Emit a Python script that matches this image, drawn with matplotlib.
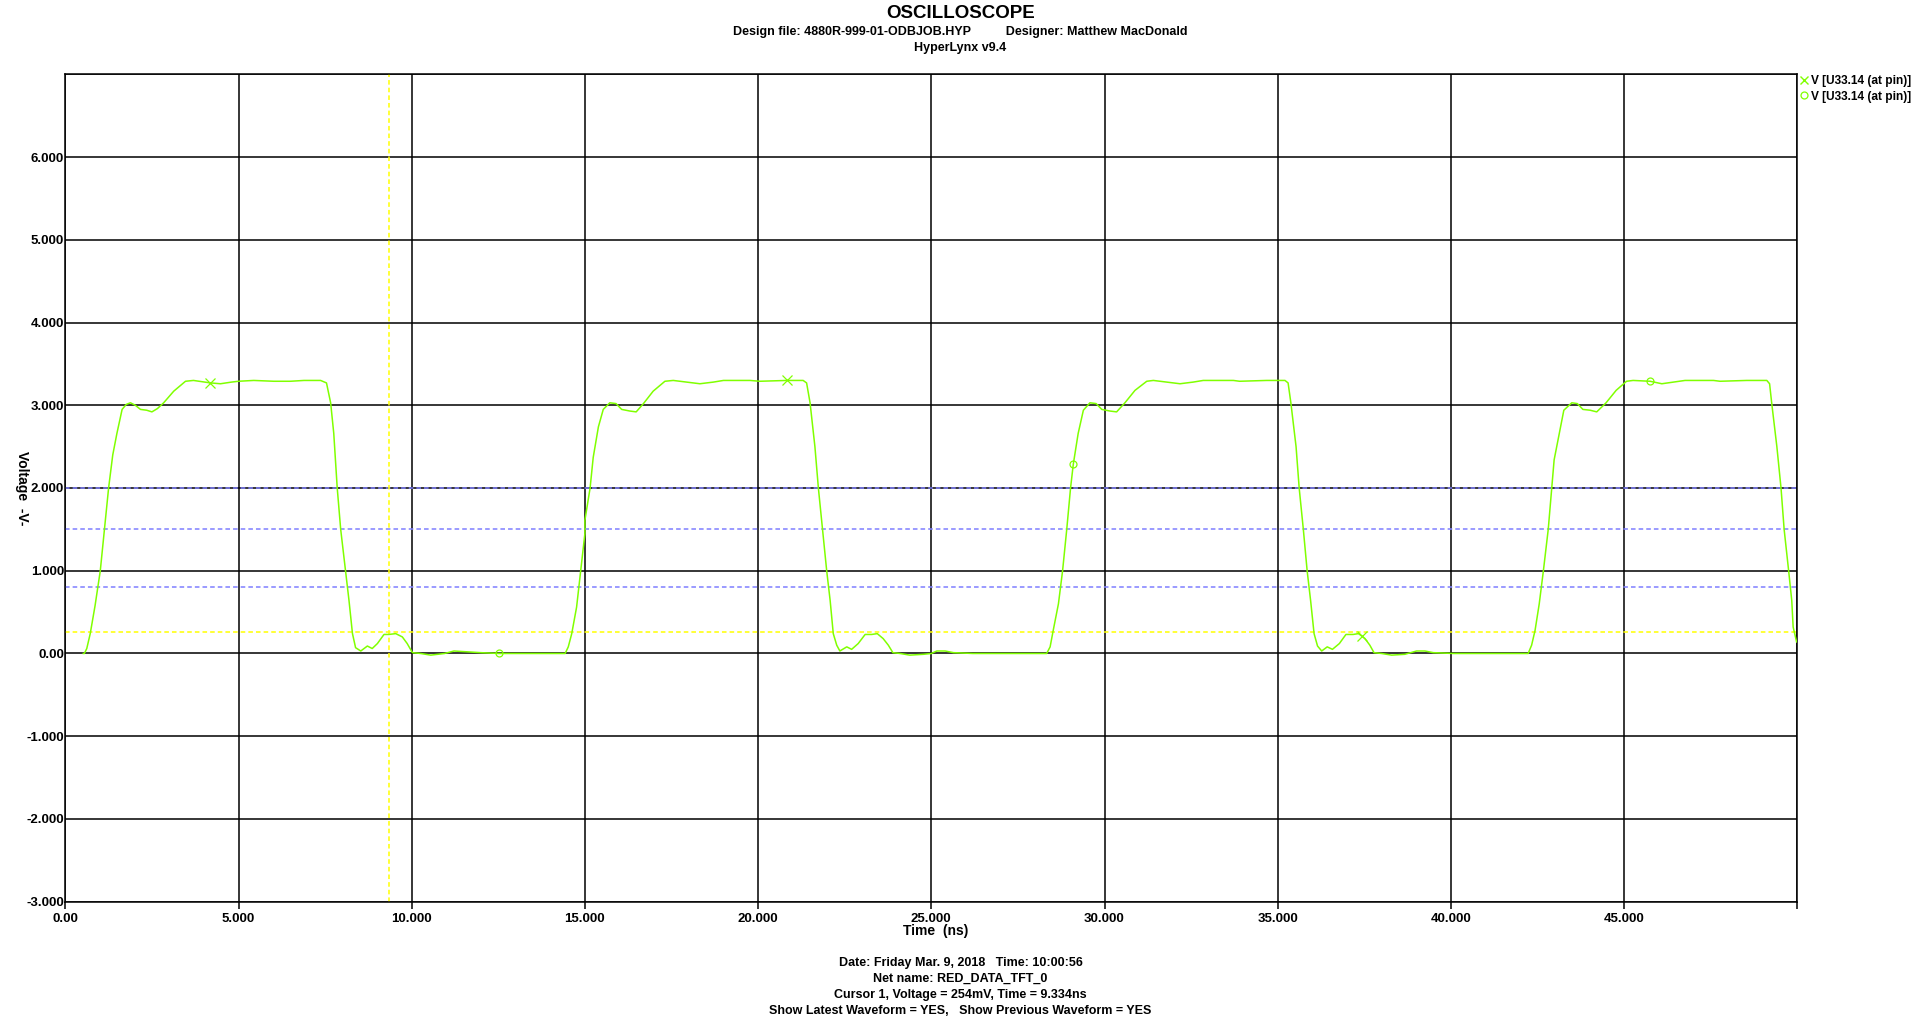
"""
plot.py
HyperLynx oscilloscope capture — RED_DATA_TFT_0 at U33.14

Redraws the oscilloscope screenshot as a matplotlib figure -> out.png
"""

import numpy as np
import matplotlib
matplotlib.use("Agg")
import matplotlib.pyplot as plt
from matplotlib.lines import Line2D

# ── Config ────────────────────────────────────────────────────
OUT_FILE = "out.png"
W_PX, H_PX = 1921, 1019
DPI = 100

FONT = ["Liberation Sans Narrow", "Liberation Sans", "DejaVu Sans"]
GREEN = "#80FF00"
BLUE = "#7F7FFF"
YELLOW = "#FFFF00"

plt.rcParams["font.family"] = FONT
plt.rcParams["font.weight"] = "bold"

# ── Data ──────────────────────────────────────────────────────
# time in ns, voltage in V
pulse1_t = [0.52, 0.55, 0.62, 0.72, 0.86, 1.01, 1.13, 1.25, 1.37, 1.49,
            1.64, 1.76, 1.88, 2.02, 2.17, 2.35, 2.50, 2.66, 2.84, 3.13,
            3.47, 3.70, 4.19, 4.48, 4.80, 5.00, 5.44, 6.02, 6.50, 6.89,
            7.37, 7.54, 7.66, 7.75, 7.85, 7.95, 8.09, 8.19, 8.29, 8.38,
            8.53, 8.72, 8.86, 9.01, 9.20, 9.34, 9.54, 9.73, 9.87, 10.02,
            10.26, 10.55, 10.95, 11.22, 11.60, 11.99, 12.52, 14.43]
pulse1_v = [0.0, 0.0, 0.06, 0.24, 0.58, 1.00, 1.50, 2.00, 2.40, 2.66,
            2.95, 3.01, 3.03, 3.00, 2.95, 2.94, 2.92, 2.96, 3.03, 3.17,
            3.29, 3.30, 3.27, 3.26, 3.28, 3.29, 3.30, 3.29, 3.29, 3.30,
            3.30, 3.27, 3.03, 2.66, 2.00, 1.50, 1.00, 0.64, 0.24, 0.07,
            0.03, 0.09, 0.06, 0.12, 0.23, 0.23, 0.24, 0.20, 0.12, 0.01,
            0.0, -0.02, 0.0, 0.03, 0.02, 0.01, 0.0, 0.0]

pulse2_t = [14.52, 14.62, 14.76, 14.88, 15.00, 15.00, 15.15, 15.24, 15.39, 15.53,
            15.72, 15.90, 16.06, 16.30, 16.48, 16.69, 16.97, 17.31, 17.55, 17.94,
            18.32, 18.71, 19.00, 19.77, 20.05, 20.83, 21.30, 21.40, 21.50, 21.64,
            21.74, 21.86, 21.98, 22.08, 22.17, 22.27, 22.36, 22.56, 22.70, 22.89,
            23.09, 23.28, 23.44, 23.61, 23.76, 23.89, 24.10, 24.38, 24.77, 25.00,
            25.16, 25.40, 25.64, 26.20, 28.33]
pulse2_v = [0.08, 0.24, 0.56, 1.00, 1.45, 1.61, 2.00, 2.37, 2.74, 2.95,
            3.03, 3.02, 2.95, 2.93, 2.92, 3.02, 3.17, 3.29, 3.30, 3.28,
            3.26, 3.28, 3.30, 3.30, 3.29, 3.30, 3.30, 3.27, 3.03, 2.50,
            2.00, 1.50, 1.00, 0.64, 0.24, 0.10, 0.03, 0.08, 0.05, 0.12,
            0.23, 0.23, 0.24, 0.18, 0.10, 0.01, 0.0, -0.02, -0.01, 0.0,
            0.03, 0.03, 0.01, 0.0, 0.0]

pulse3_t = [28.43, 28.52, 28.67, 28.79, 28.91, 29.02, 29.10, 29.24, 29.39, 29.58,
            29.76, 29.92, 30.16, 30.35, 30.59, 30.88, 31.22, 31.41, 31.80, 32.18,
            32.56, 32.85, 33.72, 33.90, 34.68, 35.21, 35.30, 35.38, 35.53, 35.62,
            35.74, 35.85, 35.95, 36.05, 36.15, 36.27, 36.43, 36.58, 36.78, 36.97,
            37.18, 37.33, 37.43, 37.52, 37.66, 37.78, 38.00, 38.29, 38.67, 39.01,
            39.25, 39.49, 40.07, 42.23]
pulse3_v = [0.08, 0.28, 0.60, 1.00, 1.50, 2.00, 2.29, 2.66, 2.94, 3.03,
            3.02, 2.95, 2.93, 2.92, 3.03, 3.18, 3.29, 3.30, 3.28, 3.26,
            3.28, 3.30, 3.30, 3.29, 3.30, 3.30, 3.27, 3.03, 2.50, 2.00,
            1.50, 1.00, 0.64, 0.24, 0.09, 0.03, 0.08, 0.05, 0.12, 0.23,
            0.23, 0.24, 0.21, 0.18, 0.10, 0.01, 0.0, -0.02, -0.01, 0.03,
            0.03, 0.01, 0.0, 0.0]

pulse4_t = [42.33, 42.43, 42.55, 42.67, 42.81, 42.91, 42.98, 43.13, 43.26, 43.49,
            43.65, 43.81, 44.02, 44.21, 44.48, 44.77, 45.07, 45.26, 45.75, 46.09,
            46.42, 46.76, 47.58, 47.77, 48.54, 49.12, 49.20, 49.26, 49.41, 49.53,
            49.62, 49.75, 49.84, 49.88, 49.98]
pulse4_v = [0.10, 0.28, 0.60, 1.00, 1.50, 2.00, 2.34, 2.66, 2.94, 3.03,
            3.02, 2.95, 2.94, 2.92, 3.03, 3.18, 3.29, 3.30, 3.29, 3.26,
            3.28, 3.30, 3.30, 3.29, 3.30, 3.30, 3.26, 3.03, 2.50, 2.00,
            1.50, 1.00, 0.64, 0.32, 0.14]

# waveform identification markers
latest_mark_t = [4.19, 20.83, 37.43]
latest_mark_v = [3.27, 3.30, 0.21]
prev_mark_t = [12.52, 29.10, 45.75]
prev_mark_v = [0.00, 2.29, 3.29]

# threshold / cursor levels
thresh_levels = [2.0, 1.5, 0.8]
cursor_v = 0.254
cursor_t = 9.334

x_ticks = [0, 5, 10, 15, 20, 25, 30, 35, 40, 45, 50]
x_labels = ["0.00", "5.000", "10.000", "15.000", "20.000", "25.000",
            "30.000", "35.000", "40.000", "45.000", ""]
y_ticks = [-3, -2, -1, 0, 1, 2, 3, 4, 5, 6, 7]
y_labels = ["-3.000", "-2.000", "-1.000", "0.00", "1.000", "2.000",
            "3.000", "4.000", "5.000", "6.000", ""]

legend_labels = ["V [U33.14 (at pin)]", "V [U33.14 (at pin)]"]

header_lines = ["Design file: 4880R-999-01-ODBJOB.HYP          Designer: Matthew MacDonald",
                "HyperLynx v9.4"]
footer_lines = ["Date: Friday Mar. 9, 2018   Time: 10:00:56",
                "Net name: RED_DATA_TFT_0",
                "Cursor 1, Voltage = 254mV, Time = 9.334ns",
                "Show Latest Waveform = YES,   Show Previous Waveform = YES"]


def fy(px):
    """Pixel row (from top) -> figure fraction."""
    return 1 - px / H_PX


def fx(px):
    return px / W_PX


# ── Plot ──────────────────────────────────────────────────────
fig = plt.figure(figsize=(W_PX / DPI, H_PX / DPI), dpi=DPI)
fig.patch.set_facecolor("white")

ax_l, ax_r, ax_t, ax_b = 65.3, 1797.3, 74.3, 901.7
ax = fig.add_axes([fx(ax_l), fy(ax_b), fx(ax_r - ax_l), (ax_b - ax_t) / H_PX])

t = np.concatenate([pulse1_t, pulse2_t, pulse3_t, pulse4_t])
v = np.concatenate([pulse1_v, pulse2_v, pulse3_v, pulse4_v])

# grid
for xt in x_ticks:
    ax.axvline(xt, color="black", linewidth=1.1, zorder=1)
for yt in y_ticks:
    ax.axhline(yt, color="black", linewidth=1.1, zorder=1)

# thresholds + cursors
for lvl in thresh_levels:
    ax.axhline(lvl, color=BLUE, linewidth=1.1, dashes=(3, 2), zorder=2)
ax.axhline(cursor_v, color=YELLOW, linewidth=1.1, dashes=(3, 2), zorder=2)
ax.axvline(cursor_t, color=YELLOW, linewidth=1.1, dashes=(3, 2), zorder=2)

# waveforms (latest and previous overlap exactly)
ax.plot(t, v, color=GREEN, linewidth=1.1, zorder=3)
ax.plot(latest_mark_t, latest_mark_v, linestyle="none", marker="x",
        color=GREEN, markersize=6.5, markeredgewidth=0.9, zorder=4)
ax.plot(prev_mark_t, prev_mark_v, linestyle="none", marker="o",
        markerfacecolor="none", markeredgecolor=GREEN, markersize=5,
        markeredgewidth=0.9, zorder=4)

ax.set_xlim(0, 50)
ax.set_ylim(-3, 7)
ax.set_xticks(x_ticks)
ax.set_xticklabels(x_labels)
ax.set_yticks(y_ticks)
ax.set_yticklabels(y_labels)
ax.tick_params(axis="x", direction="out", length=5, width=1.1, pad=3,
               labelsize=9.5)
ax.tick_params(axis="y", length=0, pad=1, labelsize=9.5)
for lab in ax.get_xticklabels() + ax.get_yticklabels():
    lab.set_fontweight("bold")
for spine in ax.spines.values():
    spine.set_edgecolor("black")
    spine.set_linewidth(1.1)

# legend, outside the plot area at top right
handles = [
    Line2D([], [], linestyle="none", marker="x", color=GREEN,
           markersize=6, markeredgewidth=1.0),
    Line2D([], [], linestyle="none", marker="o", markerfacecolor="none",
           markeredgecolor=GREEN, markersize=5, markeredgewidth=0.9),
]
fig.legend(handles, legend_labels, loc="upper left",
           bbox_to_anchor=(fx(1800), fy(75)), frameon=False,
           handlelength=0.6, handletextpad=0.3, labelspacing=0.3,
           borderpad=0, borderaxespad=0,
           prop={"family": FONT, "weight": "bold", "size": 8.6})

# header / footer text
fig.text(0.5, fy(13), "OSCILLOSCOPE", ha="center", va="center",
         fontsize=13.5, fontweight="bold")
fig.text(0.5, fy(32), header_lines[0], ha="center", va="center",
         fontsize=9, fontweight="bold")
fig.text(0.5, fy(48), header_lines[1], ha="center", va="center",
         fontsize=9, fontweight="bold")

fig.text(fx(936), fy(931), "Time  (ns)", ha="center", va="center",
         fontsize=10, fontweight="bold")
fig.text(fx(22), fy(488), "Voltage  -V-", ha="center", va="center",
         rotation=270, fontsize=10, fontweight="bold")

for i, line in enumerate(footer_lines):
    fig.text(0.5, fy(963 + 16 * i), line, ha="center", va="center",
             fontsize=9, fontweight="bold")

fig.savefig(OUT_FILE, dpi=DPI, facecolor=fig.get_facecolor())
plt.close(fig)
print(f"Saved -> {OUT_FILE}")
